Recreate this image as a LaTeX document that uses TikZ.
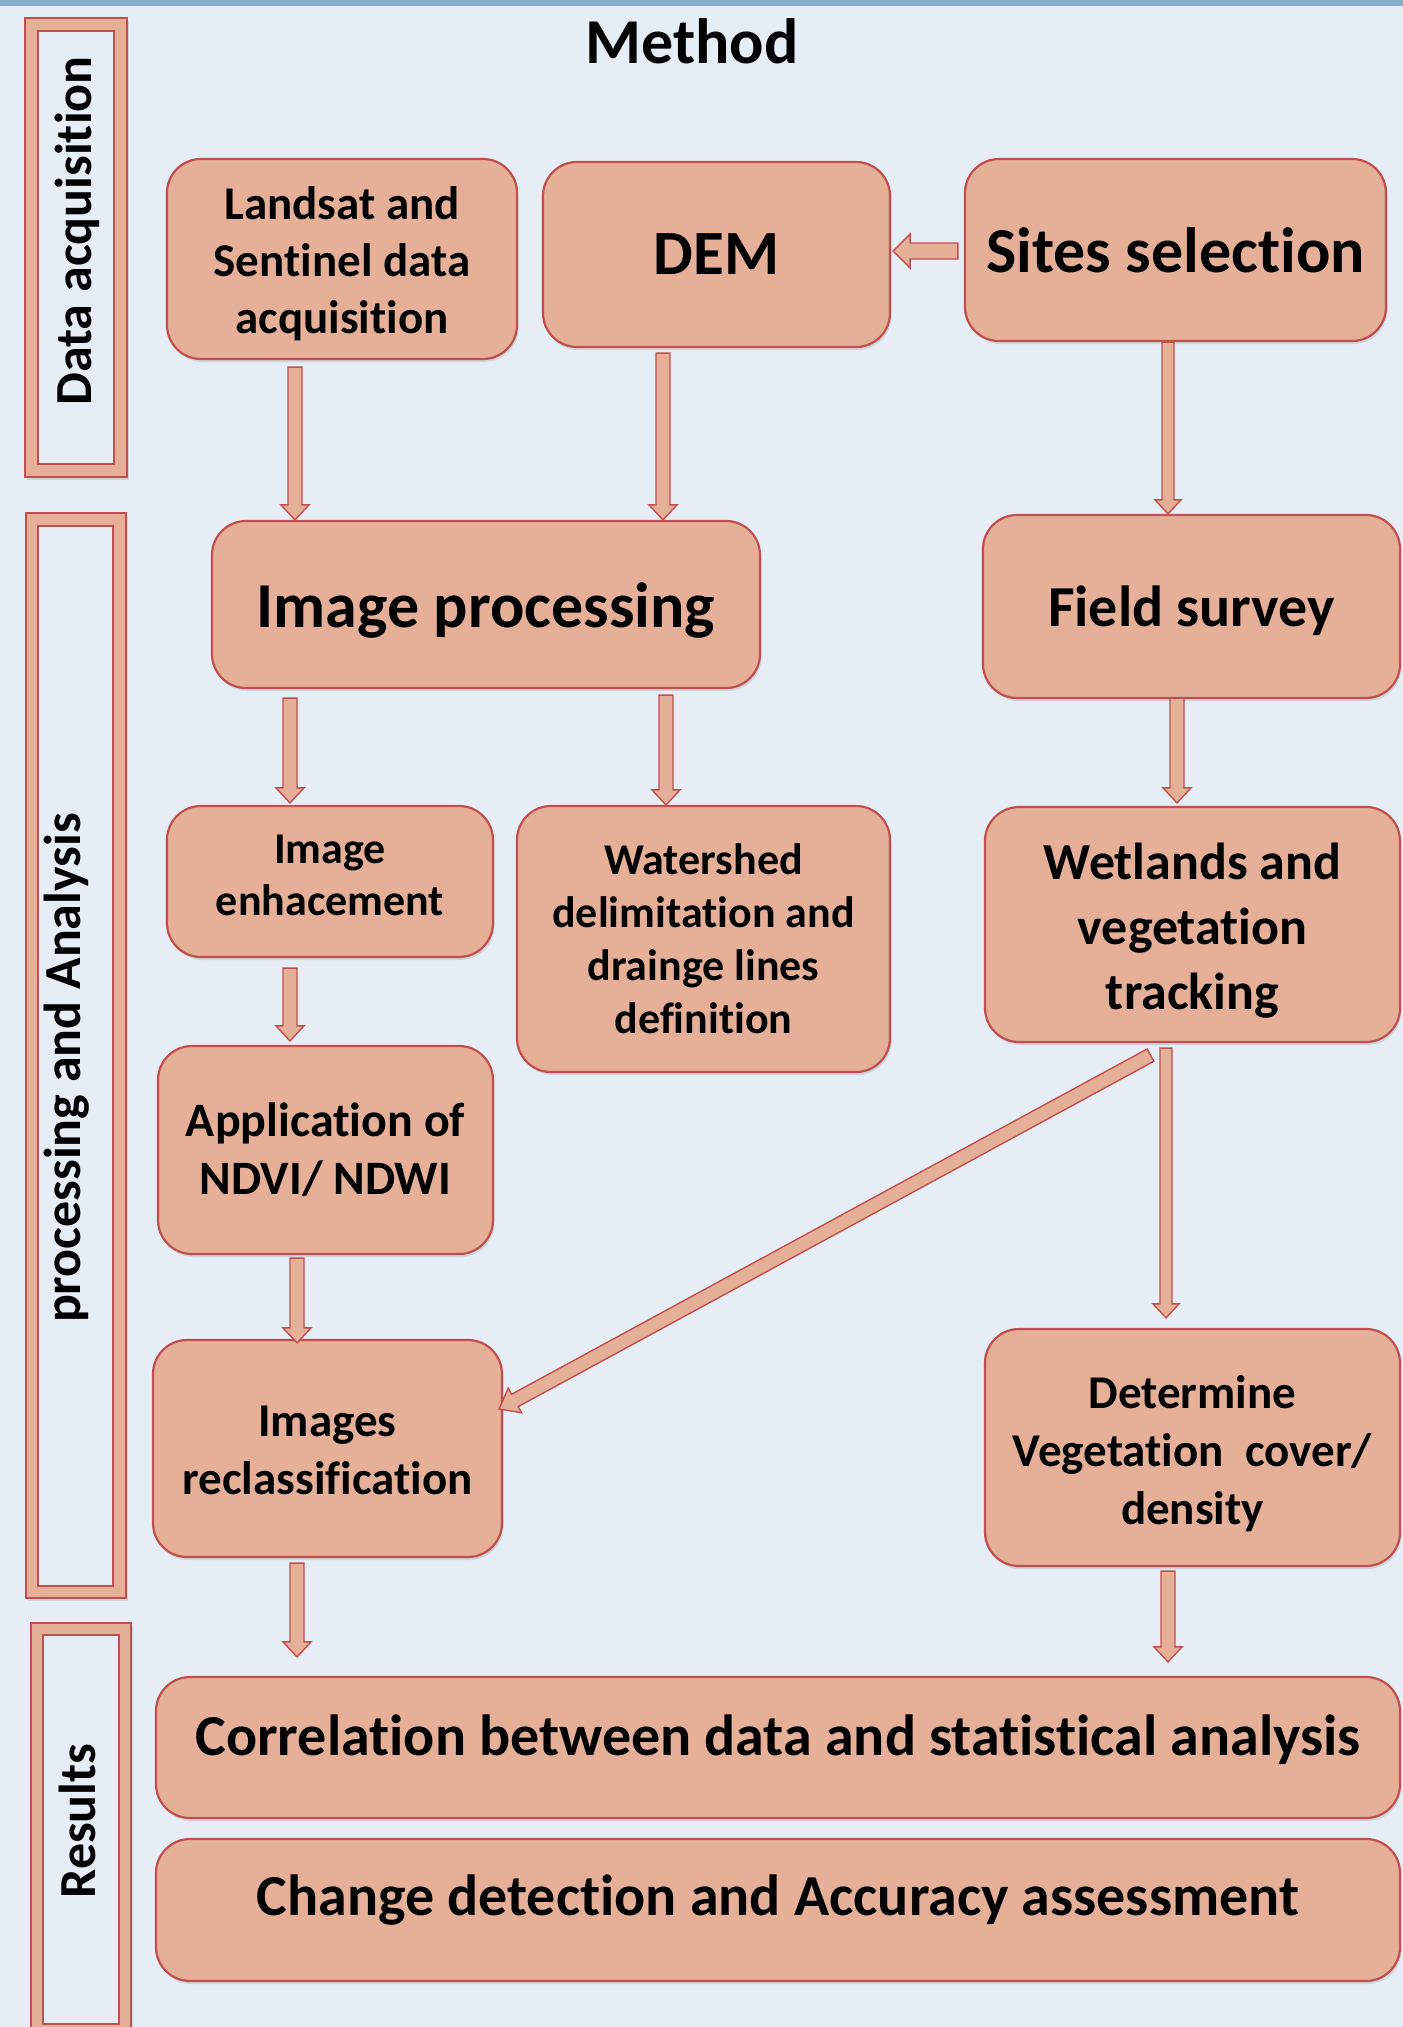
\documentclass[tikz,border=0pt]{standalone}
\usepackage{fontspec}
\setmainfont{Carlito}[RawFeature={-liga;-clig;-dlig;-calt}]
\usetikzlibrary{calc,shadows}
\definecolor{bgc}{HTML}{E6EDF4}
\definecolor{barc}{HTML}{86AECB}
\definecolor{fillc}{HTML}{E5B097}
\definecolor{linec}{HTML}{C0504D}
\tikzset{
  fb/.style 2 args={font=\fontsize{#1}{#2}\selectfont\bfseries},
  box/.style={draw=linec, fill=fillc, line width=2.2pt, rounded corners=34pt,
    inner sep=0pt,
    drop shadow={opacity=0.22, shadow xshift=1.5pt, shadow yshift=-3pt}},
  txt/.style={align=center, inner sep=0pt},
  barrow/.style={draw=linec, fill=fillc, line width=1.4pt, line join=miter},
  frameout/.style={draw=linec, fill=fillc, line width=2pt,
    drop shadow={opacity=0.22, shadow xshift=1.5pt, shadow yshift=-3pt}},
  framein/.style={draw=linec, fill=bgc, line width=2pt},
}
\newcommand\blockarrow[5]{%
  \coordinate (ba-s) at (#1);
  \coordinate (ba-e) at (#2);
  \coordinate (ba-b) at ($(ba-e)!#5!(ba-s)$);
  \draw[barrow] ($(ba-s)!#3!90:(ba-e)$) -- ($(ba-b)!#3!90:(ba-e)$)
    -- ($(ba-b)!#4!90:(ba-e)$) -- (ba-e) -- ($(ba-b)!#4!-90:(ba-e)$)
    -- ($(ba-b)!#3!-90:(ba-e)$) -- ($(ba-s)!#3!-90:(ba-e)$) -- cycle;
}
\begin{document}
\begin{tikzpicture}[x=1pt,y=-1pt]
\useasboundingbox (0,0) rectangle (1403,2027);
\fill[bgc] (0,0) rectangle (1403,2027);
\fill[barc] (0,0) rectangle (1403,6);

% side frames
\draw[frameout] (25,18) rectangle (127,477);
\draw[framein] (38,31) rectangle (114,464);
\draw[frameout] (26,513) rectangle (126,1598);
\draw[framein] (38,526) rectangle (113,1586);
\draw[frameout] (31,1623) rectangle (131,2040);
\draw[framein] (43,1635) rectangle (119,2024);
\node[rotate=90, fb={52}{60}] (lda) at (77,231) {Data acquisition};
\node[rotate=90, fb={52}{60}] (lpa) at (67,1068) {processing and Analysis};
\node[rotate=90, fb={52}{60}] (lre) at (77,1821) {Results};

\node[fb={64}{70}] (title) at (692,41) {Method};

% boxes
\node[box, minimum width=350pt, minimum height=200pt] (land) at (342,259) {};
\node[box, minimum width=347pt, minimum height=185pt] (dem) at (716.5,254.5) {};
\node[box, minimum width=421pt, minimum height=182pt] (sites) at (1175.5,250) {};
\node[box, minimum width=548pt, minimum height=167pt] (improc) at (486,604.5) {};
\node[box, minimum width=417pt, minimum height=183pt] (field) at (1191.5,606.5) {};
\node[box, minimum width=326pt, minimum height=151pt] (enh) at (330,881.5) {};
\node[box, minimum width=373pt, minimum height=266pt] (wat) at (703.5,939) {};
\node[box, minimum width=415pt, minimum height=235pt] (wet) at (1192.5,924.5) {};
\node[box, minimum width=335pt, minimum height=208pt] (ndvi) at (325.5,1150) {};
\node[box, minimum width=349pt, minimum height=217pt] (recl) at (327.5,1448.5) {};
\node[box, minimum width=415pt, minimum height=237pt] (det) at (1192.5,1447.5) {};
\node[box, minimum width=1244pt, minimum height=141pt] (corr) at (778,1747.5) {};
\node[box, minimum width=1244pt, minimum height=142pt] (chg) at (778,1910) {};

% box texts
\node[txt, fb={47}{57}] (tland) at ($(land.center)+(0,5)$) {Landsat and\\Sentinel data\\acquisition};
\node[txt, fb={63}{70}] (tdem) at (dem.center) {DEM};
\node[txt, fb={64}{70}] (tsites) at (sites.center) {Sites selection};
\node[txt, fb={64}{70}] (timproc) at ($(improc.center)+(0,6)$) {Image processing};
\node[txt, fb={58}{66}] (tfield) at ($(field.center)+(0,4)$) {Field survey};
\node[txt, fb={44}{52}] (tenh) at ($(enh.center)+(0,-6)$) {Image\\enhacement};
\node[txt, fb={44}{53}] (twat) at (wat.center) {Watershed\\delimitation and\\drainge lines\\definition};
\node[txt, fb={52}{65}] (twet) at ($(wet.center)+(0,6)$) {Wetlands and\\vegetation\\tracking};
\node[txt, fb={48}{58}] (tndvi) at (ndvi.center) {Application of\\NDVI/ NDWI};
\node[txt, fb={47}{58}] (trecl) at ($(recl.center)+(0,2)$) {Images\\reclassification};
\node[txt, fb={47}{58}] (tdet) at ($(det.center)+(0,6)$) {Determine\\Vegetation\ \ cover/\\density};
\node[txt, fb={58}{66}] (tcorr) at ($(corr.center)+(0,-8)$) {Correlation between data and statistical analysis};
\node[txt, fb={58}{66}] (tchg) at ($(chg.center)+(0,-10)$) {Change detection and Accuracy assessment};

% connectors
\blockarrow{$(land.south)+(-47,7)$}{$(land.south |- improc.north)+(-47,0)$}{7pt}{14pt}{15pt}
\blockarrow{$(dem.south)+(-53.5,5)$}{$(dem.south |- improc.north)+(-53.5,0)$}{7pt}{14pt}{15pt}
\blockarrow{$(sites.west)+(-6,1)$}{$(dem.east |- sites.west)+(2,1)$}{8pt}{17pt}{17pt}
\blockarrow{$(sites.south)+(-7.5,0)$}{$(sites.south |- field.north)+(-7.5,0)$}{6pt}{13pt}{14pt}
\blockarrow{$(improc.south)+(-196,9)$}{$(improc.south |- enh.north)+(-196,-2)$}{7pt}{14pt}{15pt}
\blockarrow{$(improc.south)+(180,6)$}{$(improc.south |- wat.north)+(180,0)$}{7pt}{14pt}{15pt}
\blockarrow{$(field.south)+(-14.5,-1)$}{$(field.south |- wet.north)+(-14.5,-3)$}{7pt}{14pt}{15pt}
\blockarrow{$(enh.south)+(-40,10)$}{$(enh.south |- ndvi.north)+(-40,-4)$}{7pt}{14pt}{15pt}
\blockarrow{$(ndvi.south)+(-28.5,3)$}{$(ndvi.south |- recl.north)+(-28.5,4)$}{7pt}{14pt}{15pt}
\blockarrow{$(wet.south)+(-42,12)$}{$(recl.east)+(-4,-39.5)$}{7pt}{14pt}{18pt}
\blockarrow{$(wet.south)+(-26.5,5)$}{$(wet.south |- det.north)+(-26.5,-10)$}{6pt}{13pt}{14pt}
\blockarrow{$(recl.south)+(-30.5,5)$}{$(recl.south |- corr.north)+(-30.5,-19)$}{7pt}{14pt}{15pt}
\blockarrow{$(det.south)+(-24.5,4)$}{$(det.south |- corr.north)+(-24.5,-14)$}{7pt}{14pt}{15pt}
\end{tikzpicture}
\end{document}
